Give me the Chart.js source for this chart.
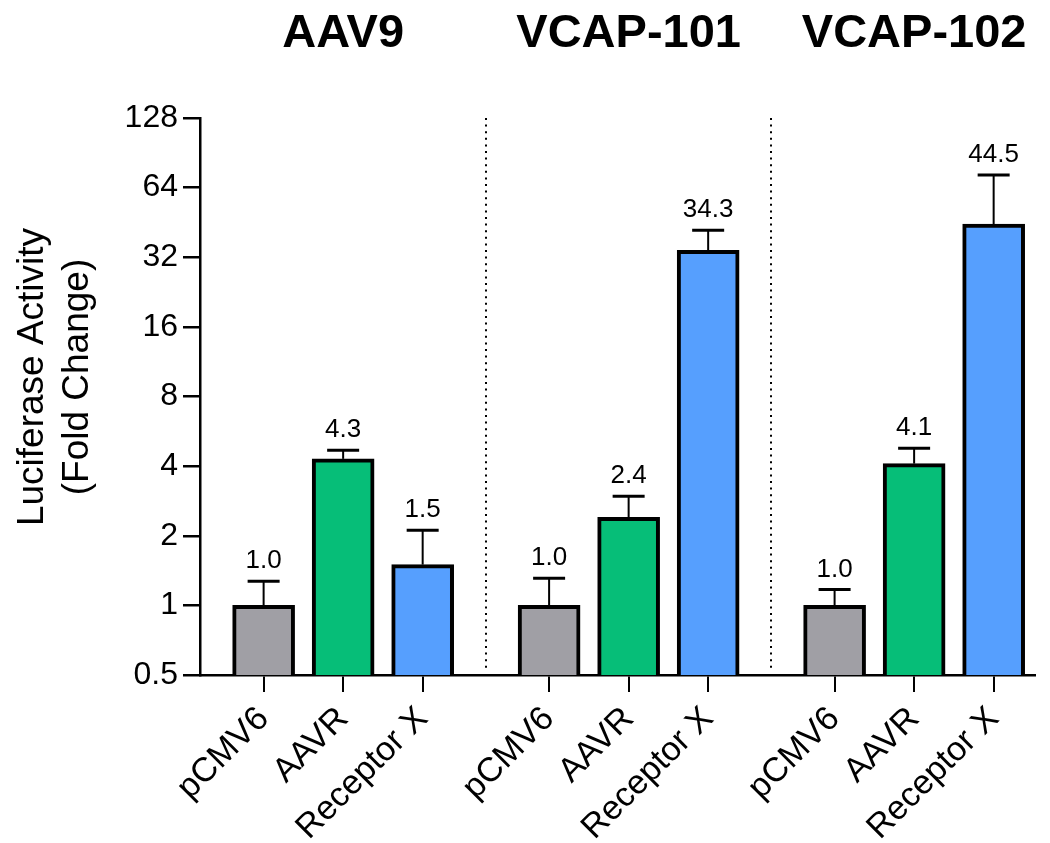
<!DOCTYPE html>
<html>
<head>
<meta charset="utf-8">
<script src="https://cdn.jsdelivr.net/npm/chart.js@4.4.0/dist/chart.umd.min.js"></script>
<style>
  body { margin: 0; background: #fff; }
</style>
</head>
<body>
<canvas id="luc" width="1050" height="843"></canvas>
<script>
var groups = ['AAV9', 'VCAP-101', 'VCAP-102'];
var conditions = ['pCMV6', 'AAVR', 'Receptor X'];

// mean fold change, one array per vector
var aav9Mean = [1.0, 4.3, 1.5];
var vcap101Mean = [1.0, 2.4, 34.3];
var vcap102Mean = [1.0, 4.1, 44.5];

// upper error bar (SD)
var aav9Sd = [0.27, 0.38, 0.61];
var vcap101Sd = [0.31, 0.56, 7.6];
var vcap102Sd = [0.17, 0.68, 28.0];

var yTicks = [0.5, 1, 2, 4, 8, 16, 32, 64, 128];

var colors = ['#a09fa5', '#06be78', '#569ffe'];
var FONT = '"Liberation Sans", Arial, sans-serif';
var GROUP_STEP = 3.59; // bar slots per group, gap included

var means = [aav9Mean, vcap101Mean, vcap102Mean];
var sds = [aav9Sd, vcap101Sd, vcap102Sd];

var points = [], barColors = [], barSd = [], xLabels = {};
means.forEach(function (m, g) {
  m.forEach(function (v, i) {
    var pos = 0.8 + i + g * GROUP_STEP;
    points.push({x: pos, y: v});
    barColors.push(colors[i]);
    barSd.push(sds[g][i]);
    xLabels[pos.toFixed(2)] = conditions[i];
  });
});

var overlay = {
  id: 'overlay',
  afterDatasetsDraw: function (chart) {
    var ctx = chart.ctx, x = chart.scales.x, y = chart.scales.y, area = chart.chartArea;
    ctx.save();
    ctx.strokeStyle = '#000';
    ctx.fillStyle = '#000';

    // dotted separators
    ctx.lineWidth = 2;
    ctx.setLineDash([2, 4.6]);
    for (var g = 1; g < groups.length; g++) {
      var sx = Math.round(x.getPixelForValue((points[g * 3 - 1].x + points[g * 3].x) / 2));
      ctx.beginPath();
      ctx.moveTo(sx, area.top);
      ctx.lineTo(sx, area.bottom - 4);
      ctx.stroke();
    }
    ctx.setLineDash([]);

    // error bars + value labels
    ctx.font = '26px ' + FONT;
    ctx.textAlign = 'center';
    ctx.textBaseline = 'alphabetic';
    points.forEach(function (p, k) {
      var px = x.getPixelForValue(p.x);
      var top = y.getPixelForValue(p.y);
      var cap = y.getPixelForValue(p.y + barSd[k]);
      ctx.lineWidth = 2;
      ctx.beginPath();
      ctx.moveTo(px, top);
      ctx.lineTo(px, cap);
      ctx.stroke();
      ctx.lineWidth = 3;
      ctx.beginPath();
      ctx.moveTo(px - 16, cap);
      ctx.lineTo(px + 16, cap);
      ctx.stroke();
      ctx.fillText(p.y.toFixed(1), px, cap - 13);
    });

    // group titles
    ctx.font = 'bold 47px ' + FONT;
    groups.forEach(function (name, g) {
      ctx.fillText(name, x.getPixelForValue(points[g * 3 + 1].x), 47);
    });

    // y axis title
    ctx.font = '37px ' + FONT;
    [['Luciferase Activity', 43], ['(Fold Change)', 88]].forEach(function (t) {
      ctx.save();
      ctx.translate(t[1], 377);
      ctx.rotate(-Math.PI / 2);
      ctx.fillText(t[0], 0, 0);
      ctx.restore();
    });
    ctx.restore();
  }
};

new Chart(document.getElementById('luc'), {
  type: 'bar',
  data: {
    datasets: [{
      data: points,
      backgroundColor: barColors,
      borderColor: '#000',
      borderWidth: 4,
      borderSkipped: 'start',
      barThickness: 62
    }]
  },
  options: {
    responsive: false,
    animation: false,
    layout: { padding: { top: 118, right: 15, left: 0, bottom: 0 } },
    plugins: {
      legend: { display: false },
      tooltip: { enabled: false }
    },
    scales: {
      x: {
        type: 'linear',
        min: 0,
        max: 10.5,
        offset: false,
        grid: { display: true, offset: false, drawOnChartArea: false, drawTicks: true, tickLength: 17, color: '#000', lineWidth: 2 },
        border: { display: true, color: '#000', width: 2.5 },
        afterBuildTicks: function (scale) {
          scale.ticks = points.map(function (p) { return {value: p.x}; });
        },
        afterFit: function (scale) { scale.height = 168; },
        ticks: {
          autoSkip: false,
          minRotation: 45,
          maxRotation: 45,
          padding: 7,
          color: '#000',
          font: { family: FONT, size: 34 },
          callback: function (v) { return xLabels[Number(v).toFixed(2)]; }
        }
      },
      y: {
        type: 'logarithmic',
        min: 0.5,
        max: 128,
        grid: { display: true, drawOnChartArea: false, drawTicks: true, tickLength: 17, color: '#000', lineWidth: 2.5 },
        border: { display: true, color: '#000', width: 2.5 },
        afterBuildTicks: function (scale) {
          scale.ticks = yTicks.map(function (v) { return {value: v}; });
        },
        afterFit: function (scale) { scale.width = 200; },
        ticks: {
          padding: 5,
          color: '#000',
          font: { family: FONT, size: 32 },
          callback: function (v) { return String(v); }
        }
      }
    }
  },
  plugins: [overlay]
});
</script>
</body>
</html>
